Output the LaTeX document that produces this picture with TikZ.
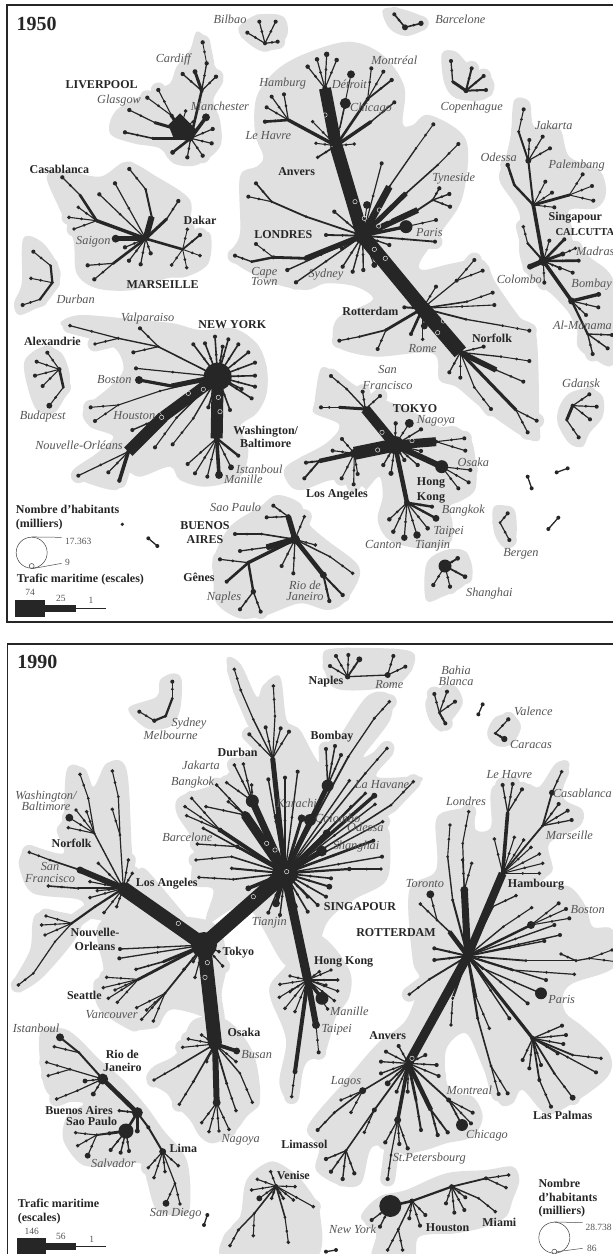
\documentclass[tikz,border=0pt]{standalone}
\usepackage{fontspec}
\setmainfont{Liberation Serif}
\usetikzlibrary{calc}
\definecolor{ink}{HTML}{262626}
\definecolor{blob}{HTML}{E0E0E0}
\definecolor{soft}{HTML}{555555}
\newcount\portno
\def\passno{0}
\tikzset{
  port/.style={circle,inner sep=0pt,outer sep=0pt,draw=none},
  ringmark/.style={circle,draw=blob,line width=.5pt,inner sep=0pt,minimum size=4.4pt,fill=none},
  halo/.style={draw=blob,line width=15pt,line cap=round},
  blobshape/.style={fill=blob,draw=none},
  bl/.style={font=\bfseries\fontsize{12}{13.5}\selectfont,text=black!85,inner sep=0pt,align=center},
  itl/.style={font=\itshape\fontsize{12.3}{12.5}\selectfont,text=soft,inner sep=0pt,align=center},
  numl/.style={font=\fontsize{9.5}{10}\selectfont,text=soft,inner sep=0pt},
  frameline/.style={draw=black!85,line width=1.6pt},
  q1/.style={shift={(0pt,0pt)},x=.33333pt,y=-.33333pt},
  q2/.style={shift={(306pt,0pt)},x=.33333pt,y=-.33333pt},
  q3/.style={shift={(0pt,-310pt)},x=.33333pt,y=-.33333pt},
  q4/.style={shift={(306pt,-310pt)},x=.33333pt,y=-.33333pt},
  q5/.style={shift={(0pt,-630pt)},x=.33333pt,y=-.33333pt},
  q6/.style={shift={(306pt,-630pt)},x=.33333pt,y=-.33333pt},
  q7/.style={shift={(0pt,-940pt)},x=.33333pt,y=-.33333pt},
  q8/.style={shift={(306pt,-940pt)},x=.33333pt,y=-.33333pt},
}
\newcommand\OnTop[1]{\ifnum\passno=2 #1\fi}
\newcommand\Hb[4]{\node[port,minimum size=#4pt] (#1) at (#2,#3) {};}
\newcommand\Lk[3]{%
  \ifnum\passno=0 \draw[halo] (#1.center)--(#2.center);\fi
  \ifnum\passno=1 \draw[draw=ink,line width=#3pt] (#1.center)--(#2.center);\fi}
\newcommand\Fan[4]{\foreach \xx/\yy in {#4}{%
  \global\advance\portno by 1
  \edef\nm{n\the\portno}%
  \node[port,minimum size=#3pt+.9pt] (\nm) at (\xx,\yy) {};
  \node[port,minimum size=3pt] (\nm m) at ($(#1)!.55!(\nm)$) {};
  \Lk{#1}{\nm}{#2}%
}}
\newcommand\Bare[4]{%
  \global\advance\portno by 1
  \node[port,minimum size=4pt] (b\the\portno a) at (#1,#2) {};
  \node[port,minimum size=4pt] (b\the\portno b) at (#3,#4) {};
  \ifnum\passno=1 \draw[draw=ink,line width=1.3pt] (b\the\portno a.center)--(b\the\portno b.center);\fi}
\newcommand\BL[3]{\global\advance\portno by 1 \node[bl] (t\the\portno) at (#1,#2) {#3};}
\newcommand\IT[3]{\global\advance\portno by 1 \node[itl] (t\the\portno) at (#1,#2) {#3};}
\newcommand\RM[2]{\global\advance\portno by 1 \OnTop{\node[ringmark] (r\the\portno) at (#1,#2) {};}}
\newcommand\Blob[1]{\fill[blobshape] plot[smooth cycle,tension=.55] coordinates {#1};}
\newcommand\Nets{%
\begin{scope}[q1]
 \Hb{bil}{795}{130}{4}\Fan{bil}{1.2}{3.2}{742/98,778/65,827/65,833/125}
 \Hb{liv}{540}{390}{6}\Hb{livb}{572}{415}{6}\Lk{liv}{livb}{7}
 \OnTop{\fill[ink] (505,375)--(540,340)--(590,390)--(572,425)--(520,412)--cycle;}
 \Fan{livb}{2.6}{4}{518/457}
 \Fan{livb}{1.2}{3.4}{638/387,635/430,608/467,562/472}
 \Fan{livb}{3.5}{7}{618/352}
 \Hb{car}{605}{272}{4}\Lk{livb}{car}{2.6}
 \Fan{car}{3}{4}{585/215}\Fan{car}{1.3}{3.4}{548/222,648/230,620/190}
 \Hb{car2}{620}{190}{2.8}\Fan{car2}{.9}{3.4}{608/127}
 \Hb{l1}{458}{415}{3.2}\Lk{livb}{l1}{2.6}\Fan{l1}{1.6}{3.4}{375/397}
 \Hb{l2}{465}{368}{3.2}\Lk{liv}{l2}{3}\Fan{l2}{1.2}{3.4}{388/330}
 \Hb{l3}{515}{347}{4}\Lk{liv}{l3}{3}\Fan{l3}{1.1}{3.4}{442/293,475/270}
 \Fan{liv}{1}{3}{557/333,580/365}
 \Hb{mar}{437}{716}{5}
 \Fan{mar}{5}{7}{347/716}
 \Hb{ca1}{290}{662}{3.4}\Lk{mar}{ca1}{3.4}\Fan{ca1}{1.1}{3}{207/652,222/687,235/622}
 \Hb{ca2}{240}{585}{3}\Lk{ca1}{ca2}{2.6}\Fan{ca2}{1.2}{3.4}{187/532}
 \Fan{mar}{1.2}{3.4}{298/583,345/550,375/742,387/782,422/793,452/760}
 \Hb{ma3}{455}{650}{3}\Lk{mar}{ma3}{6}\Hb{ma4}{437}{568}{3}\Lk{ma3}{ma4}{2}\Fan{ma4}{1.2}{3.4}{388/507}
 \Hb{ma5}{500}{657}{3}\Lk{mar}{ma5}{3}\Fan{ma5}{1.3}{3.4}{535/603}
 \Hb{ma6}{340}{790}{3}\Lk{mar}{ma6}{2.6}\Fan{ma6}{1.2}{3.4}{263/796,283/838}
 \Hb{dak}{548}{748}{3.4}\Lk{mar}{dak}{2.6}
 \Fan{dak}{.9}{3}{562/688,600/767,560/803,515/795}\Fan{dak}{1.8}{3.4}{600/705}
 \Hb{dur}{157}{848}{3.4}\Fan{dur}{1}{3}{93/835}
 \Hb{du1}{152}{797}{3}\Lk{dur}{du1}{2.2}\Fan{du1}{1.1}{3.2}{100/755}
 \Hb{du2}{120}{898}{3}\Lk{dur}{du2}{2.2}\Fan{du2}{1.1}{3.2}{68/915}
\end{scope}
\begin{scope}[q2]
 \Hb{lon}{170}{707}{17}
 \Hb{anv}{90}{437}{6}\Lk{lon}{anv}{13}
 \Hb{ham}{57}{265}{5.5}\Lk{anv}{ham}{12}
 \Fan{ham}{1.2}{3.6}{5/200,33/178,92/180}\Fan{ham}{1.2}{4.6}{62/163}
 \Hb{hh}{-53}{360}{3}\Lk{anv}{hh}{3.4}
 \Fan{hh}{2.6}{3.4}{-123/365}\Fan{hh}{1.2}{3.2}{-118/322,-103/290,-66/283}
 \Fan{anv}{1}{2.8}{145/432,30/430}\Fan{anv}{1.6}{3}{35/472}
 \Fan{anv}{1}{2.8}{20/365}
 \Hb{det}{118}{310}{11}\Lk{anv}{det}{1.4}
 \Fan{anv}{1}{7}{135/223}
 \Hb{cc}{185}{297}{4}\Lk{anv}{cc}{2.6}\Fan{cc}{1.1}{3.2}{196/205,232/215}\Fan{cc}{1.8}{3.4}{257/240}
 \Hb{cd}{195}{365}{3}\Lk{anv}{cd}{3.4}\Fan{cd}{1.4}{3.2}{265/307}
 \RM{57}{345}\RM{108}{390}\RM{147}{605}
 \Fan{lon}{1.2}{3.2}{227/490}
 \Hb{t1}{250}{560}{3}\Lk{lon}{t1}{7}\Hb{t2}{330}{445}{2.8}\Lk{t1}{t2}{1.4}\Fan{t2}{1}{3.2}{382/373}
 \Fan{lon}{1}{7}{183/615}
 \Hb{t3}{335}{630}{3}\Lk{lon}{t3}{6}\Hb{t4}{380}{600}{3}\Lk{t3}{t4}{1.8}\Fan{t4}{1.4}{3.4}{400/565,430/582,432/620}
 \Hb{t5}{300}{580}{3}\Lk{lon}{t5}{5}\Hb{t6}{395}{495}{2.8}\Lk{t5}{t6}{1.6}\Fan{t6}{1.1}{3.2}{457/432}
 \Hb{par}{300}{680}{13}\Lk{lon}{par}{3.4}\Fan{par}{1}{3.2}{390/660}
 \Fan{lon}{1.8}{3.2}{387/725,60/705}
 \Hb{t7}{0}{650}{3}\Lk{lon}{t7}{1.8}
 \Hb{t8}{-103}{605}{3}\Lk{t7}{t8}{1.8}\Fan{t8}{1.6}{3.2}{-150/550}\Fan{t8}{1.1}{3.2}{-173/590}
 \Hb{t9}{0}{775}{5}\Lk{lon}{t9}{5.5}
 \Hb{t10}{-98}{772}{4}\Lk{t9}{t10}{2.8}\Fan{t10}{1}{3.2}{-150/732}
 \Hb{t11}{-163}{785}{3}\Lk{t10}{t11}{2.4}\Fan{t11}{1.4}{3.2}{-213/767}
 \Fan{lon}{1.4}{3.4}{-56/810,-30/847,110/800,140/815,172/810,108/745}
 \Fan{lon}{1.2}{5}{205/795}
 \Fan{lon}{1.4}{3.4}{250/735,85/635}
 \Hb{rot}{350}{925}{6}\Lk{lon}{rot}{14}
 \RM{205}{748}\RM{238}{775}\RM{220}{630}\RM{218}{678}\RM{248}{655}\RM{175}{655}
 \Fan{rot}{1.1}{3.2}{390/860,565/915}
 \Hb{u1}{452}{842}{4}\Lk{rot}{u1}{1.2}\Fan{u1}{1.1}{3.2}{505/780,530/812}
 \Hb{u2}{483}{905}{3}\Lk{rot}{u2}{1.6}\Fan{u2}{1.1}{3.2}{560/878}
 \Fan{rot}{2}{3.2}{295/922}
 \Hb{sin}{682}{615}{4}
 \Fan{sin}{1}{3.2}{718/545,738/578,745/622}
 \Hb{od}{625}{555}{3}\Lk{sin}{od}{2.4}\Fan{od}{2.4}{3.6}{605/495}
 \Hb{ja}{667}{482}{6}\Lk{sin}{ja}{2}
 \Hb{ja2}{638}{395}{3.4}\Lk{ja}{ja2}{2}\Fan{ja2}{1.1}{3.2}{653/328}
 \Fan{ja}{1.2}{3.2}{670/420,710/410,732/445}
 \Hb{pa}{790}{585}{3}\Lk{sin}{pa}{2.8}\Fan{pa}{1}{3.2}{830/523,858/558,862/602}
 \Hb{cal}{712}{783}{10}\Lk{sin}{cal}{3.6}
 \Hb{ca3}{665}{730}{3}\Lk{cal}{ca3}{2}\Fan{ca3}{1.1}{3}{652/680}
 \Fan{cal}{1.1}{3.2}{730/722,800/818,762/805,715/848}
 \Fan{cal}{2.6}{3.2}{775/718,818/782}
 \Hb{ma}{770}{762}{5}\Lk{cal}{ma}{3}\Fan{ma}{1}{2.8}{808/745}
 \Fan{cal}{5}{5}{672/800}
 \Hb{bom}{797}{903}{7}\Lk{cal}{bom}{3.6}
 \Fan{bom}{3.4}{4}{878/883}\Fan{bom}{1.2}{3.2}{877/922,840/945}
 \Hb{ala}{845}{1002}{3}\Lk{bom}{ala}{2.2}\Fan{ala}{1.4}{3.2}{860/1062,905/1045,918/1005}
 \Hb{bar}{297}{82}{6}\Fan{bar}{1.6}{3.2}{265/43}\Fan{bar}{1.6}{4.4}{345/70}
 \Hb{cop}{480}{272}{5}\Hb{co1}{440}{245}{3}\Lk{cop}{co1}{3}\Fan{co1}{1.3}{3.2}{435/183}
 \Fan{cop}{2}{3.2}{497/205,533/228,540/270}
\end{scope}
\begin{scope}[q3]
 \Hb{ny}{653}{200}{28}
 \Hb{v1}{475}{110}{2.8}\Lk{ny}{v1}{1.6}\Fan{v1}{1.2}{3.2}{420/55,400/127}
 \Hb{v2}{355}{85}{3.4}\Lk{v1}{v2}{1.4}\Fan{v2}{1.2}{3}{285/102,210/47}
 \Fan{ny}{1.6}{3.2}{580/103,615/100,645/80,668/110,685/88,715/103,745/127,765/158,765/197,765/230,755/265,725/237,690/300,625/292}
 \Fan{ny}{1.2}{3.2}{408/175}
 \Hb{bo}{417}{210}{8}\Hb{bo2}{515}{228}{3}\Lk{ny}{bo2}{5}\Lk{bo2}{bo}{3.2}
 \Hb{v3}{480}{243}{2.6}\Lk{ny}{v3}{1.2}\Hb{v4}{355}{285}{2.8}\Lk{v3}{v4}{1.1}\Fan{v4}{1}{3.2}{272/292,285/333}
 \Hb{ho}{490}{320}{4}\Lk{ny}{ho}{11}
 \Hb{no}{385}{425}{4}\Lk{ho}{no}{12}
 \Fan{no}{1.2}{3.2}{235/497,325/487}\Fan{no}{3.6}{3.4}{358/512}
 \Fan{ho}{1.4}{3.2}{397/360}
 \Hb{v5}{530}{323}{3}\Lk{ny}{v5}{1.4}\Fan{v5}{1.1}{3.2}{465/412}
 \Hb{v6}{580}{325}{3}\Lk{ny}{v6}{1.4}\Fan{v6}{1.1}{3.2}{518/403}
 \Hb{wa}{650}{385}{6}\Lk{ny}{wa}{12}
 \Fan{wa}{2.4}{3.2}{715/437}\Fan{wa}{1.2}{5}{693/472}\Fan{wa}{3.6}{7}{657/495}
 \Fan{wa}{1.2}{3.2}{622/500,585/490,563/462}
 \RM{610}{238}\RM{655}{262}\RM{660}{305}\RM{565}{250}\RM{485}{322}
 \Hb{al}{178}{178}{4.4}\Fan{al}{1.1}{3.2}{142/128,110/155,105/197,128/228}
 \Hb{a2}{190}{232}{2.8}\Lk{al}{a2}{2.6}\Fan{a2}{1.1}{5}{148/287}
 \Hb{bue}{885}{688}{10}
 \Hb{b1}{785}{672}{3}\Lk{bue}{b1}{1.6}\Fan{b1}{1.2}{3.2}{705/672}
 \Hb{b2}{800}{712}{3}\Lk{bue}{b2}{6}\Fan{b2}{1.3}{3.2}{720/723}
 \Hb{b3}{865}{620}{5}\Lk{bue}{b3}{5.5}\Fan{b3}{1.3}{3.2}{820/587,800/622}
 \Hb{b4}{745}{758}{4}\Lk{bue}{b4}{3.4}\Fan{b4}{1.2}{3.2}{660/748}\Fan{b4}{2.6}{3.2}{680/815}
 \Hb{b5}{760}{845}{5.5}\Lk{b4}{b5}{2.4}\Fan{b5}{1.4}{3.2}{720/898,782/905}
 \Fan{bue}{1.2}{3.2}{845/768,880/790}
\end{scope}
\begin{scope}[q4]
 \Hb{b6}{52}{795}{7}\Lk{bue}{b6}{4.5}\Fan{b6}{2}{3.4}{70/873,110/855}
 \Hb{b7}{72}{740}{2.8}\Lk{bue}{b7}{1.4}\Fan{b7}{1.2}{3}{140/790}
 \Fan{bue}{1.2}{3}{28/705,-5/620}
 \Fan{rot}{2.6}{3.2}{315/72}\Fan{rot}{1.2}{6}{355/48}\Fan{rot}{1.2}{3}{350/88}
 \Hb{r1}{240}{60}{3.6}\Lk{rot}{r1}{2.8}\Fan{r1}{1.2}{3.2}{215/117}
 \Hb{r2}{160}{80}{3}\Lk{r1}{r2}{1.8}\Fan{r2}{1.2}{3.2}{100/92}
 \Hb{r3}{480}{28}{3}\Lk{rot}{r3}{1.8}\Hb{r4}{590}{47}{3}\Lk{r3}{r4}{1.3}\Fan{r4}{1}{3.2}{670/62}
 \Hb{nor}{463}{127}{4}\Lk{rot}{nor}{15}
 \RM{395}{68}\RM{412}{33}
 \Fan{nor}{1.3}{3.2}{533/110,430/187,463/203}
 \Hb{n1}{585}{140}{3}\Lk{nor}{n1}{1.3}\Fan{n1}{1}{3.2}{670/153}
 \Hb{n2}{570}{180}{3.4}\Lk{nor}{n2}{5.5}\Fan{n2}{1.2}{3.2}{652/215}
 \Hb{n3}{505}{232}{3}\Lk{nor}{n3}{1.2}\Fan{n3}{1.1}{3.2}{555/297}
 \Hb{n4}{630}{300}{3}\Lk{nor}{n4}{3.2}\Fan{n4}{1.2}{3.2}{692/332,665/367}
 \Hb{tok}{267}{405}{18}
 \Hb{sf}{178}{297}{6}\Lk{tok}{sf}{10}
 \Hb{s1}{122}{237}{3}\Lk{sf}{s1}{1.4}\Fan{s1}{1.2}{3.2}{75/198}
 \Fan{sf}{1.2}{3.2}{170/245,222/258}
 \Hb{s2}{100}{292}{3}\Lk{sf}{s2}{3}\Fan{s2}{1.6}{3.2}{45/292}
 \Hb{nag}{390}{395}{4}\Lk{tok}{nag}{9}\Fan{nag}{1.1}{3.2}{475/385,478/422}
 \Hb{la}{145}{430}{9}\Lk{tok}{la}{13}
 \Fan{la}{1.1}{3.2}{108/387,80/422,155/492,143/523,107/505}
 \Hb{s3}{40}{453}{3.4}\Lk{la}{s3}{4.5}\Fan{s3}{1.8}{3.2}{0/458,-5/505}
 \RM{215}{420}\RM{228}{367}\RM{318}{392}
 \Hb{osa}{407}{470}{13}\Lk{tok}{osa}{6}\Fan{osa}{1.1}{3.2}{493/480,488/517,457/535}
 \Fan{tok}{1.3}{3.4}{269/340,345/358,345/423,335/465,295/450,232/465}
 \Fan{tok}{1.1}{8}{310/340}\Fan{tok}{1.2}{4.2}{255/490}
 \Hb{hk}{303}{578}{6}\Lk{tok}{hk}{4.5}
 \Fan{hk}{2.4}{3.2}{378/590}\Fan{hk}{2.4}{6}{390/625}\Fan{hk}{1.2}{3.6}{365/655,262/665,250/628}
 \Fan{hk}{1.2}{6.6}{333/675}\Fan{hk}{1.2}{5.6}{295/683}
 \Hb{gd}{800}{287}{4}\Fan{gd}{1.2}{3.2}{850/253,872/290,852/328}
 \Hb{g2}{782}{330}{3}\Lk{gd}{g2}{3}\Fan{g2}{1.2}{3.2}{818/382}
 \Hb{ber}{582}{638}{3}\Fan{ber}{1.2}{3.2}{605/610,610/690}
 \Hb{sha}{417}{768}{13}\Fan{sha}{1.8}{3.8}{455/745,477/800}\Fan{sha}{1.1}{3.4}{432/830,382/825}
 \Bare{665}{500}{677}{535}\Bare{752}{487}{785}{475}\Bare{727}{657}{757}{623}
\end{scope}
\begin{scope}[q3]
 \Bare{445}{685}{472}{708}
 \Hb{leg1}{367}{643}{3.6}
\end{scope}
\begin{scope}[q5]
 \Hb{sy1}{517}{205}{3}\Hb{sy2}{497}{258}{3.4}\Hb{sy3}{463}{272}{4.4}
 \Fan{sy1}{1.1}{3.2}{517/155}\Lk{sy1}{sy2}{2.2}\Lk{sy2}{sy3}{2.2}\Fan{sy3}{1.1}{3.2}{418/245}
 \Hb{sg}{855}{730}{26}
 \Hb{to}{612}{945}{26}
 \Hb{lo}{370}{775}{12}
 \Lk{lo}{to}{14}\Lk{to}{sg}{15}
 \Hb{f1}{240}{720}{7}\Lk{lo}{f1}{6}\Hb{f2}{150}{690}{3}\Lk{f1}{f2}{1.6}\Fan{f2}{1.2}{3}{88/667}
 \Hb{f3}{235}{775}{3}\Lk{lo}{f3}{1.8}\Fan{f3}{1.6}{3}{145/768}
 \Fan{lo}{1.2}{3}{270/755,295/700,270/803,292/782,312/848,350/830,385/690,397/730}
 \Hb{f4}{360}{615}{3}\Lk{lo}{f4}{1.2}\Hb{f5}{355}{500}{3}\Lk{f4}{f5}{1.2}\Fan{f5}{1.1}{3}{337/423}\Fan{f4}{1.1}{3}{337/538}
 \Hb{f6}{283}{610}{3}\Lk{lo}{f6}{1.4}\Hb{f7}{265}{505}{3}\Lk{f6}{f7}{1.2}\Fan{f7}{1.1}{3}{240/433}
 \Fan{f6}{1.1}{3}{228/540,260/545,205/593}\Fan{f6}{1.1}{7}{208/563}
 \Hb{se}{215}{880}{3.2}\Hb{se2}{285}{830}{3}\Lk{lo}{se2}{2.2}\Lk{se2}{se}{2.2}
 \Fan{se}{1.1}{3}{138/858,125/885,135/915}
 \Hb{se3}{165}{935}{2.6}\Lk{se}{se3}{1.2}
 \Hb{f8}{100}{1030}{3}\Lk{se3}{f8}{1.2}\Fan{f8}{1.2}{3}{55/1065}
 \Hb{dn}{818}{385}{4}\Lk{sg}{dn}{5}
 \Hb{d1}{760}{268}{2.8}\Lk{dn}{d1}{1.4}\Hb{d2}{722}{180}{3.2}\Lk{d1}{d2}{1.2}\Fan{d2}{1.1}{3}{703/118}
 \Fan{dn}{1.2}{3.2}{748/313,797/292,842/295,867/305}
 \Hb{d3}{825}{258}{3}\Lk{dn}{d3}{1.2}\Fan{d3}{1.1}{3}{820/168}
 \Hb{d4}{757}{513}{13}\Lk{sg}{d4}{7}\Fan{d4}{1.3}{3}{680/458,703/405,730/402,755/465}
 \Hb{d5}{735}{555}{8}\Lk{sg}{d5}{9}\Fan{d5}{1.3}{3}{650/465,685/515,618/530}
 \Hb{d6}{660}{600}{5}\Lk{sg}{d6}{4}\Fan{d6}{1.2}{3}{575/505,555/530,560/557}
 \Fan{sg}{1.6}{3}{610/595}
 \Hb{d7}{712}{650}{4.4}\Lk{sg}{d7}{2.6}\Fan{d7}{1.3}{3}{592/642}
 \Hb{d8}{695}{680}{3}\Lk{sg}{d8}{1.6}\Fan{d8}{1.2}{3}{588/690}
 \Fan{sg}{2}{3}{695/715}
 \Hb{d9}{700}{748}{3}\Lk{sg}{d9}{1.6}\Fan{d9}{1.3}{3}{597/742}
 \Fan{sg}{3.6}{5}{745/775}
 \Fan{sg}{4}{7}{828/820}\Fan{sg}{1.4}{3.2}{805/848,840/855,805/448,855/443,893/425}
 \Fan{sg}{5}{8}{880/830}\Fan{sg}{2.4}{5}{830/560}\Fan{sg}{3}{7}{905/565}
 \RM{800}{640}\RM{825}{660}\RM{860}{725}\RM{760}{800}\RM{535}{880}
\end{scope}
\begin{scope}[q6]
 \Hb{bb}{65}{467}{12}\Lk{sg}{bb}{5}\Fan{bb}{1.5}{3.2}{60/357,87/348,105/375}
 \Hb{e1}{127}{380}{3}\Lk{sg}{e1}{1.8}\Hb{e2}{205}{265}{3.4}\Lk{e1}{e2}{1.3}\Fan{e2}{1.2}{3}{250/215}
 \Hb{e3}{178}{430}{3}\Lk{sg}{e3}{1.5}\Fan{e3}{1.2}{3}{243/355}
 \Fan{sg}{1.4}{3}{130/452,135/530,230/575,207/523}
 \Hb{e4}{255}{525}{3}\Lk{sg}{e4}{1.6}\Fan{e4}{1.2}{3}{322/455}
 \Fan{sg}{3.4}{5}{205/497}\Fan{sg}{2}{3}{178/490}
 \Fan{sg}{3}{11}{12/570}\Fan{sg}{4}{7}{62/610}\Fan{sg}{5}{10}{47/663}
 \Fan{sg}{2.6}{3.2}{202/632}\Fan{sg}{1.4}{3.2}{228/680}
 \Hb{e5}{130}{717}{4.4}\Lk{sg}{e5}{2.2}\Fan{e5}{1.2}{3}{225/717}
 \Fan{sg}{2}{5}{70/770}\Fan{sg}{1.6}{3.2}{75/745,60/800,35/825,5/845,5/800}
 \Hb{rt}{485}{978}{6}
 \Hb{hb}{590}{730}{4}\Lk{rt}{hb}{8}
 \Fan{hb}{1.1}{3}{700/730,710/700,700/672,675/652,653/630,625/622,565/627}
 \Hb{lh}{605}{548}{3.4}\Lk{hb}{lh}{3.6}\Fan{lh}{1.3}{3.2}{590/465,620/462,648/478}
 \Hb{mr}{710}{587}{3.4}\Lk{hb}{mr}{1.8}\Fan{mr}{1.3}{3.2}{758/522,785/542,797/570}
 \Hb{cs}{738}{488}{6}\Lk{mr}{cs}{1.8}\Fan{cs}{1.3}{3}{767/425}
 \Hb{g1}{475}{780}{8}\Lk{rt}{g1}{7}
 \Hb{g3}{470}{640}{3}\Lk{g1}{g3}{1.2}\Fan{g3}{1.1}{3}{488/545}\Fan{g1}{1.2}{3}{497/700,470/690}
 \Hb{g4}{425}{680}{3}\Hb{g5}{440}{810}{3.4}\Lk{rt}{g5}{2}\Lk{g5}{g4}{1.4}\Fan{g4}{1.1}{3}{432/585}
 \Hb{g6}{430}{905}{3}\Lk{rt}{g6}{4.5}\Hb{g7}{393}{870}{3}\Lk{g6}{g7}{1.5}\Fan{g7}{1.2}{7}{373/793}\Fan{g7}{1.2}{3}{343/822}
 \Fan{rt}{2}{3.2}{385/955,385/990}
 \Hb{g8}{560}{830}{3}\Lk{rt}{g8}{2.4}\Fan{g8}{1.3}{3}{630/797}
 \Hb{g9}{592}{890}{3}\Lk{rt}{g9}{1.4}\Fan{g9}{1.1}{3}{677/833}
 \Hb{bs}{675}{885}{8}\Lk{rt}{bs}{2.4}\Fan{bs}{1.1}{3.2}{758/820,780/837,790/865}
 \Fan{rt}{1.4}{3.2}{745/885,762/915,715/933}
\end{scope}
\begin{scope}[q7]
 \Fan{to}{1.3}{3.2}{360/27,358/55}
 \Hb{h2}{490}{65}{3}\Lk{to}{h2}{2.8}\Fan{h2}{1.6}{3}{408/88}
 \Hb{h3}{415}{118}{3.4}\Lk{to}{h3}{2.8}\Fan{h3}{1.1}{3}{320/112,310/143,345/150,325/175,352/187}
 \Hb{h4}{495}{160}{3.2}\Lk{to}{h4}{1.8}\Fan{h4}{1.1}{3}{410/203,425/238,440/210,460/243}
 \Fan{to}{1.2}{3}{580/65,585/112,668/78,657/35,552/88}
 \Hb{os}{645}{312}{13}\Lk{to}{os}{14}
 \Fan{os}{3.8}{6}{710/333}\Fan{os}{1.1}{3}{708/365,605/285,565/297,548/322,620/365}
 \Hb{h5}{535}{378}{3}\Lk{os}{h5}{1.6}\Fan{h5}{1.3}{3}{462/420}
 \Hb{h6}{580}{425}{3.4}\Lk{os}{h6}{1.6}\Fan{h6}{1.3}{3}{538/493}
 \Hb{ng}{650}{488}{8}\Lk{os}{ng}{6}\Fan{ng}{1.2}{3}{605/548,627/575,657/573,687/568}
 \Hb{h7}{680}{430}{3.2}\Lk{os}{h7}{1.8}\Fan{h7}{1.3}{3}{708/512}
 \Hb{h8}{720}{400}{2.8}\Lk{os}{h8}{1.4}\Fan{h8}{1.2}{3}{757/487}
 \RM{622}{68}\RM{615}{112}
 \Hb{ist}{180}{292}{8}\Hb{rj}{308}{417}{11}\Hb{rm}{237}{338}{3}\Lk{ist}{rm}{2}\Lk{rm}{rj}{2}\Fan{rm}{1.2}{3}{163/320}
 \Hb{h9}{210}{388}{3.2}\Lk{rj}{h9}{1.2}\Fan{h9}{1.1}{3}{140/367,145/407}
 \Fan{rj}{1.2}{4}{255/423,280/462}\Hb{h10}{232}{452}{3}\Lk{rj}{h10}{1.2}\Fan{h10}{1.1}{3}{170/477}
 \Hb{ba}{412}{518}{11}\Lk{rj}{ba}{4.5}\Fan{ba}{1.6}{3}{358/512}\Fan{ba}{3}{4}{412/573}
 \Hb{sp}{378}{573}{15}\Lk{ba}{sp}{2.6}
 \Hb{lm}{488}{635}{7}\Hb{lm2}{445}{562}{4}\Lk{ba}{lm2}{2}\Lk{lm2}{lm}{2}
 \Fan{lm}{1.2}{3}{535/677,445/683,462/713,495/695}
 \Hb{h11}{525}{730}{3}\Lk{lm}{h11}{1.2}\Fan{h11}{1.1}{3}{540/792}\Fan{h11}{1.1}{6}{498/790}
 \Hb{h12}{328}{580}{4}\Lk{sp}{h12}{2.8}\Hb{h13}{290}{585}{3.4}\Lk{h12}{h13}{2}
 \Fan{h13}{1.1}{3}{227/578,233/617}\Fan{h13}{1.1}{5}{263/647}
 \Fan{sp}{1.4}{3.2}{332/630,362/638,387/633}
 \Bare{622}{825}{612}{855}
 \Hb{ve}{828}{738}{4}
 \Fan{ve}{1.1}{3}{812/695,772/718,755/750,880/780,885/740}\Fan{ve}{1.1}{5}{778/775}\Fan{ve}{1.6}{3}{815/775,850/775}
 \Hb{v7}{855}{832}{3}\Lk{ve}{v7}{1.6}\Fan{v7}{1.1}{3}{865/907}
 \Hb{v8}{763}{820}{3}\Lk{ve}{v8}{1.6}\Fan{v8}{1}{3}{760/887}
 \Hb{v9}{715}{870}{3.4}\Lk{v8}{v9}{1.4}\Fan{v9}{1.2}{3}{690/917}
 \Fan{ve}{1.1}{3}{940/800}
\end{scope}
\begin{scope}[q8]
 \Hb{hkg}{5}{120}{4}\Lk{sg}{hkg}{9}
 \Hb{k1}{-33}{395}{5}\Lk{hkg}{k1}{4}\Fan{k1}{1.2}{3}{-43/470}
 \Fan{hkg}{1.1}{3}{40/95,75/90,95/120,95/153,60/135,85/182,65/207,-48/108,-78/133,-48/155,-80/172,-63/205,-33/215}
 \Fan{hkg}{3.6}{12}{48/175}
 \Hb{k2}{30}{255}{8}\Lk{hkg}{k2}{6}\Fan{k2}{1}{3.2}{38/337}
 \Hb{anb}{307}{370}{5}\Lk{rt}{anb}{9}
 \Fan{anb}{1.3}{3.2}{240/335,278/318,225/365,358/345,392/375,398/408,225/400,272/455,305/455}
 \Fan{anb}{1.6}{5}{245/430}
 \Hb{ps}{275}{540}{7}\Lk{anb}{ps}{3.6}\Fan{ps}{1.3}{3.4}{238/607,305/625,280/612}
 \Hb{k4}{255}{645}{3}\Lk{ps}{k4}{1.2}\Fan{k4}{1.3}{3.2}{245/717}
 \Hb{k5}{205}{510}{5}\Lk{anb}{k5}{1.8}\Fan{k5}{1.1}{3}{175/577}
 \Hb{lim}{120}{632}{3.4}\Lk{k5}{lim}{1.6}\Fan{lim}{1.4}{3.4}{60/657,75/695,110/717,145/700}
 \Hb{lag}{170}{452}{7}\Lk{anb}{lag}{1.6}\Fan{lag}{1.1}{3}{105/480,135/517}
 \Hb{k6}{85}{518}{3.4}\Lk{lag}{k6}{1.6}\Fan{k6}{1.4}{3.2}{35/570}
 \Hb{k7}{330}{480}{3}\Lk{anb}{k7}{2.8}\Fan{k7}{2}{3.2}{345/570}
 \Hb{k8}{375}{510}{3.2}\Lk{anb}{k8}{4.5}\Fan{k8}{1.8}{3.4}{395/585,425/577}
 \Hb{k9}{428}{480}{5}\Lk{anb}{k9}{1.8}\Fan{k9}{1.2}{3.2}{500/518,495/550}\Fan{k9}{1.6}{11}{468/555}
 \RM{318}{355}\RM{440}{175}
 \Hb{k10}{370}{118}{3}\Lk{rt}{k10}{1.8}\Fan{k10}{1.3}{3}{310/163}
 \Fan{rt}{1.4}{3.2}{720/120,665/190,610/235}
 \Hb{k11}{620}{90}{3}\Lk{rt}{k11}{2.2}\Fan{k11}{1.2}{3}{805/103}
 \Hb{k12}{530}{85}{3.4}\Lk{rt}{k12}{2.2}\Fan{k12}{1.4}{11}{705/160}
 \Hb{k13}{660}{62}{3}\Lk{rt}{k13}{1.8}\Hb{k14}{810}{62}{3.4}\Lk{k13}{k14}{1.6}\Fan{k14}{1.3}{3}{765/42}
 \Hb{k15}{850}{55}{3}\Lk{k14}{k15}{1.3}\Fan{k15}{1}{3}{918/30,930/65}
 \Hb{k16}{510}{170}{3}\Lk{rt}{k16}{2.4}\Fan{k16}{1.2}{3}{550/265}
 \Hb{k17}{440}{175}{3}\Lk{rt}{k17}{2.4}\Fan{k17}{1.2}{3}{435/255}
 \Hb{k18}{515}{235}{3.4}\Lk{rt}{k18}{2.2}\Hb{k19}{555}{378}{3.2}\Lk{k18}{k19}{1.6}\Fan{k19}{1.2}{3.2}{578/462,605/460}
 \Hb{lp}{680}{295}{5}\Lk{rt}{lp}{3.2}
 \Fan{lp}{1.3}{3.2}{768/257,780/285,772/312,870/397,670/385,650/360,705/375,755/340}
 \Hb{k20}{800}{345}{3}\Lk{lp}{k20}{1.8}\Fan{k20}{1.2}{3}{885/355}
 \Hb{k21}{745}{400}{3}\Lk{lp}{k21}{1.8}\Fan{k21}{1.3}{5}{800/473}
 \Hb{k22}{700}{420}{4}\Lk{lp}{k22}{1.8}\Fan{k22}{1.3}{3.2}{735/500}
 \Hb{nyb}{253}{798}{22}\Hb{k23}{318}{783}{5}\Lk{nyb}{k23}{2.6}
 \Fan{nyb}{1.3}{3.2}{197/840,222/860}
 \Hb{k24}{437}{740}{5}\Lk{k23}{k24}{2.2}
 \Hb{k25}{540}{715}{4}\Lk{k24}{k25}{1.8}\Fan{k25}{1.2}{3}{608/705,600/743}
 \Fan{k23}{1.2}{3.2}{342/857,358/825,310/835}
 \Hb{k26}{277}{868}{3.4}\Lk{k23}{k26}{1.4}\Fan{k26}{1.2}{3}{245/930,290/930}
 \Fan{k24}{1.2}{3.2}{420/790,445/818,475/810,478/772}
 \Hb{k27}{518}{775}{3}\Lk{k24}{k27}{1.4}\Fan{k27}{1.2}{3}{568/815}
 \Bare{60}{935}{90}{930}
\end{scope}
\begin{scope}[q6]
 \Hb{nap}{125}{140}{5.5}\Fan{nap}{1.2}{3.2}{90/78,127/75,72/108}\Fan{nap}{1.8}{5}{160/88}
 \Hb{rom}{245}{135}{6}\Lk{nap}{rom}{1.3}\Fan{rom}{1.2}{3.2}{262/78,298/110}
 \Hb{bah}{400}{248}{3}\Fan{bah}{1.2}{3.2}{385/192,423/185,447/215}\Fan{bah}{2}{3.2}{418/280}
 \Bare{530}{223}{517}{253}
 \Hb{cr}{568}{310}{3.4}\Fan{cr}{1.2}{3.4}{607/268}\Fan{cr}{1.8}{5.4}{595/327}
\end{scope}
}
\begin{document}
\begin{tikzpicture}[x=1pt,y=-1pt]
\useasboundingbox (0pt,0pt) rectangle (613pt,-1254pt);
\fill[white] (0pt,0pt) rectangle (613pt,-1254pt);
\clip (0pt,0pt) rectangle (613pt,-1254pt);

% grey territories
\begin{scope}[q1]
 \Blob{(715,85)(770,45)(850,50)(860,110)(800,155)(745,130)}
 \Blob{(590,95)(620,120)(640,190)(670,240)(640,300)(660,360)(660,440)(590,495)(520,490)(480,445)(400,430)(330,400)(350,330)(460,270)(510,250)(530,200)(570,150)}
 \Blob{(140,530)(190,510)(300,530)(380,485)(470,530)(570,600)(570,690)(630,700)(625,790)(560,830)(500,835)(400,870)(290,865)(230,820)(220,720)(180,630)}
 \Blob{(70,715)(130,730)(180,810)(170,860)(130,910)(60,945)(42,910)(65,850)}
\end{scope}
\begin{scope}[q2]
 \Blob{(0,160)(130,125)(230,165)(295,260)(290,370)(320,375)(370,345)(480,420)(470,590)(410,690)(345,780)(350,810)(440,790)(530,780)(570,850)(640,950)(690,1000)(700,1260)(700,1320)(660,1315)(590,1270)(510,1210)(450,1160)(400,1140)(380,1060)(210,1070)(100,1045)(80,1000)(100,950)(200,900)(150,860)(60,850)(0,870)(-98,850)(-198,800)(-228,760)(-198,700)(-198,530)(-148,500)(-128,470)(-153,400)(-148,290)(-88,210)}
 \Blob{(625,300)(670,305)(685,380)(760,385)(790,470)(880,510)(900,580)(870,625)(790,630)(800,690)(800,720)(850,770)(925,850)(925,1085)(860,1075)(815,1040)(810,970)(745,890)(670,830)(640,760)(640,640)(580,540)(600,470)(615,400)}
 \Blob{(408,160)(450,155)(490,195)(550,225)(565,265)(530,300)(450,295)(415,250)}
 \Blob{(230,30)(280,25)(360,55)(360,85)(300,108)(250,85)}
\end{scope}
\begin{scope}[q3]
 \Blob{(190,30)(250,15)(420,30)(520,40)(600,60)(700,55)(770,100)(800,170)(800,250)(770,310)(720,350)(745,420)(720,500)(620,530)(540,510)(510,470)(420,500)(370,480)(350,540)(240,510)(220,480)(290,430)(340,380)(270,350)(250,300)(330,230)(370,180)(350,120)(280,80)(190,50)}
 \Blob{(75,150)(130,110)(185,130)(210,200)(195,260)(160,310)(110,300)(80,220)}
 \Blob{(640,745)(690,650)(780,590)(830,555)(900,580)(925,640)(980,690)(1070,760)(1075,810)(1030,880)(980,900)(900,880)(800,915)(720,925)(650,880)(640,800)}
\end{scope}
\begin{scope}[q4]
 \Blob{(25,280)(45,175)(90,190)(170,240)(225,265)(330,310)(400,350)(450,350)(500,400)(510,530)(470,570)(430,590)(440,640)(430,700)(340,715)(250,690)(215,630)(230,560)(220,500)(180,540)(170,530)(80,510)(-10,540)(-50,525)(-60,470)(60,400)(100,345)(25,310)}
 \Blob{(760,290)(790,250)(850,235)(890,260)(890,320)(850,370)(830,410)(790,400)(755,340)}
 \Blob{(560,600)(580,585)(625,600)(632,670)(620,710)(590,710)(565,670)}
 \Blob{(362,760)(420,720)(480,725)(500,790)(470,830)(410,860)(360,870)}
\end{scope}
\begin{scope}[q5]
 \Blob{(385,235)(470,200)(480,150)(520,130)(545,150)(540,240)(510,290)(440,295)}
 \Blob{(60,680)(90,650)(190,670)(170,600)(190,560)(200,420)(240,410)(280,470)(320,400)(380,420)(400,700)(440,720)(560,860)(600,900)(500,960)(330,880)(260,860)(240,810)(100,790)(60,720)}
 \Blob{(110,850)(235,860)(230,920)(130,1040)(60,1085)(35,1065)(90,960)}
 \Blob{(680,100)(720,100)(770,200)(790,165)(840,140)(860,270)(900,300)(960,400)(1000,350)(1100,200)(1170,195)(1170,270)(1090,380)(1160,345)(1180,370)(1130,440)(1260,440)(1250,470)(1160,560)(1170,620)(1160,750)(1060,810)(980,880)(930,1030)(850,1000)(740,830)(620,880)(640,780)(575,760)(580,640)(530,550)(540,500)(650,460)(710,400)(760,330)}
\end{scope}
\begin{scope}[q6]
 \Blob{(50,80)(90,55)(300,60)(325,100)(280,160)(180,180)(80,170)}
 \Blob{(360,210)(410,170)(450,170)(470,220)(430,280)(405,305)(370,270)}
 \Blob{(545,300)(570,260)(620,255)(645,290)(620,340)(580,350)(550,330)}
\end{scope}
\begin{scope}[q7]
 \Blob{(310,-60)(620,-60)(680,50)(665,160)(670,250)(580,220)(510,210)(470,260)(420,270)(390,270)(300,210)(280,130)(310,90)}
 \Blob{(580,240)(680,240)(760,340)(780,480)(740,530)(700,580)(640,610)(600,590)(570,540)(520,490)(500,460)(440,420)(460,380)(530,340)}
 \Blob{(670,890)(720,830)(740,720)(810,665)(870,690)(920,740)(960,820)(940,960)(680,960)}
 \Blob{(120,280)(185,265)(230,290)(300,360)(370,420)(440,500)(490,570)(560,660)(570,800)(540,825)(470,810)(440,720)(420,670)(300,680)(240,670)(190,600)(200,530)(250,490)(170,480)(130,430)}
\end{scope}
\begin{scope}[q8]
 \Blob{(-50,-20)(50,-10)(130,90)(130,170)(90,230)(70,300)(50,350)(0,370)(-40,490)(-80,430)(-60,300)(-105,180)(-105,130)(-50,60)}
 \Blob{(310,-150)(390,-210)(390,-360)(440,-390)(500,-390)(510,-330)(555,-340)(560,-460)(660,-470)(700,-460)(750,-530)(790,-530)(770,-430)(830,-390)(820,-340)(730,-290)(740,-210)(700,-170)(790,-160)(840,-100)(860,-40)(920,-30)(925,80)(800,130)(770,170)(780,220)(830,260)(910,340)(905,410)(800,490)(720,520)(650,450)(620,490)(580,490)(530,380)(480,280)(420,330)(430,450)(500,470)(530,530)(500,590)(420,610)(360,630)(290,640)(200,620)(165,730)(100,735)(30,690)(40,620)(5,560)(120,420)(215,310)(300,240)(340,120)(320,60)}
 \Blob{(165,830)(220,770)(300,750)(420,700)(540,690)(620,680)(640,720)(620,780)(600,830)(540,860)(450,880)(340,890)(320,960)(200,960)(210,880)}
\end{scope}

% pass 0: grey halos, pass 1: links, pass 2: ports and marks
\def\passno{0}\Nets
\def\passno{1}\Nets
\def\passno{2}\tikzset{port/.append style={fill=ink}}\Nets

\begin{scope}[q3]
 \node[circle,draw=black!75,line width=.5pt,minimum size=31pt,inner sep=0pt] (lc1) at (95,728) {};
 \node[circle,draw=black!75,line width=.5pt,minimum size=5pt,inner sep=0pt] (lc2) at (95,768) {};
 \coordinate (lc1e) at (185,682);\coordinate (lc2e) at (185,760);
 \draw[black!70,line width=.5pt] (lc1.north)--(lc1e);
 \draw[black!70,line width=.5pt] (lc2.south)--(lc2e);
 \node[numl,anchor=west] (n173) at (195,693) {17.363};
 \node[numl,anchor=west] (n9) at (195,757) {9};
 \node[bl,anchor=west,align=left] (lgp) at (47,623) {Nombre d’habitants\\(milliers)};
 \node[bl,anchor=west] (lgt) at (50,810) {Trafic maritime (escales)};
 \fill[ink] (45,870) rectangle (135,920);
 \fill[ink] (135,885) rectangle (228,905);
 \draw[ink,line width=.6pt] (228,895)--(318,895);
 \node[numl] (n74) at (90,847) {74};\node[numl] (n25) at (183,866) {25};\node[numl] (n1) at (273,871) {1};
\end{scope}
\begin{scope}[q7]
 \fill[ink] (50,895) rectangle (138,942);
 \fill[ink] (138,910) rectangle (228,930);
 \draw[ink,line width=.6pt] (228,920)--(318,920);
 \node[numl] (n146) at (95,875) {146};\node[numl] (n56) at (183,890) {56};\node[numl] (n1b) at (275,897) {1};
 \node[bl,anchor=west,align=left] (lgtb) at (53,815) {Trafic maritime\\(escales)};
\end{scope}
\begin{scope}[q8]
 \node[circle,draw=black!75,line width=.5pt,minimum size=31pt,inner sep=0pt] (lc3) at (745,893) {};
 \node[circle,draw=black!75,line width=.5pt,minimum size=5pt,inner sep=0pt] (lc4) at (745,935) {};
 \coordinate (lc3e) at (830,848);\coordinate (lc4e) at (830,925);
 \draw[black!70,line width=.5pt] (lc3.north)--(lc3e);
 \draw[black!70,line width=.5pt] (lc4.east)--(lc4e);
 \node[numl,anchor=west] (n287) at (838,862) {28.738};
 \node[numl,anchor=west] (n86) at (843,925) {86};
 \node[bl,anchor=west,align=left] (lgpb) at (697,775) {Nombre\\d’habitants\\(milliers)};
\end{scope}

%================ labels ================
\begin{scope}[q1]
 \node[bl,font=\bfseries\fontsize{20}{20}\selectfont] (y50) at (110,72) {1950};
 \IT{690}{57}{Bilbao}\IT{520}{178}{Cardiff}\BL{305}{255}{LIVERPOOL}\IT{357}{302}{Glasgow}
 \IT{660}{318}{Manchester}\IT{848}{252}{Hamburg}\IT{805}{408}{Le Havre}\BL{890}{515}{Anvers}
 \BL{178}{507}{Casablanca}\IT{280}{725}{Saigon}\BL{600}{662}{Dakar}\BL{488}{853}{MARSEILLE}
 \IT{227}{897}{Durban}\BL{850}{703}{LONDRES}\IT{793}{830}{Cape\\[-2pt]Town}
\end{scope}
\begin{scope}[q2]
 \IT{463}{57}{Barcelone}\IT{265}{180}{Montréal}\IT{130}{253}{Détroit}\IT{195}{327}{Chicago}
 \IT{497}{322}{Copenhague}\IT{743}{375}{Jakarta}\IT{578}{472}{Odessa}\IT{812}{498}{Palembang}
 \IT{443}{535}{Tyneside}\IT{370}{697}{Paris}\BL{808}{652}{Singapour}
 \node[bl,anchor=west,font=\bfseries\fontsize{10.6}{12}\selectfont] (calc) at (748,695) {CALCUTTA};
 \IT{868}{755}{Madras}\IT{60}{825}{Sydney}\IT{640}{838}{Colombo}
 \node[itl,anchor=east] (bomb1) at (918,853) {Bombay};
 \BL{193}{935}{Rotterdam}
\end{scope}
\begin{scope}[q3]
 \IT{443}{25}{Valparaiso}\BL{697}{45}{NEW YORK}\BL{157}{95}{Alexandrie}\IT{343}{208}{Boston}
 \IT{403}{317}{Houston}\IT{128}{320}{Budapest}\IT{237}{407}{Nouvelle-Orléans}
 \BL{797}{380}{Washington/\\Baltimore}\IT{778}{477}{Istanboul}\IT{730}{508}{Manille}
 \IT{707}{592}{Sao Paulo}\BL{615}{668}{BUENOS\\[1pt]AIRES}\BL{597}{803}{Gênes}\IT{672}{863}{Naples}
 \IT{915}{843}{Rio de\\[-2pt]Janeiro}
\end{scope}
\begin{scope}[q4]
 \node[itl,anchor=east] (alm) at (918,47) {Al-Manama};
 \IT{350}{115}{Rome}\BL{558}{85}{Norfolk}\IT{245}{202}{San\\[3pt]Francisco}\BL{327}{297}{TOKYO}
 \IT{390}{333}{Nagoya}\IT{502}{457}{Osaka}\BL{375}{541}{Hong\\[2pt]Kong}\BL{93}{555}{Los Angeles}
 \IT{472}{603}{Bangkok}\IT{428}{665}{Taipei}\IT{232}{702}{Canton}\IT{380}{707}{Tianjin}
 \IT{825}{220}{Gdansk}\IT{645}{730}{Bergen}\IT{550}{850}{Shanghai}
\end{scope}
\begin{scope}[q5]
 \node[bl,font=\bfseries\fontsize{20}{20}\selectfont] (y90) at (112,95) {1990};
 \IT{567}{280}{Sydney}\IT{512}{317}{Melbourne}\BL{713}{367}{Durban}\IT{603}{405}{Jakarta}
 \IT{578}{458}{Bangkok}\IT{138}{513}{Washington/\\[-1pt]Baltimore}\IT{890}{520}{Karachi}
 \BL{215}{640}{Norfolk}\IT{562}{623}{Barcelone}\IT{150}{728}{San\\[-1pt]Francisco}
 \BL{500}{760}{Los Angeles}\IT{808}{877}{Tianjin}\BL{285}{928}{Nouvelle-\\Orleans}
\end{scope}
\begin{scope}[q6]
 \BL{60}{155}{Naples}\IT{250}{165}{Rome}\IT{450}{138}{Bahia\\[-2pt]Blanca}\IT{682}{243}{Valence}
 \IT{675}{342}{Caracas}\BL{78}{320}{Bombay}\IT{228}{465}{La Havane}\IT{610}{433}{Le Havre}
 \node[itl,anchor=east] (casa) at (918,490) {Casablanca};
 \IT{480}{515}{Londres}\IT{95}{565}{Colombo}\IT{178}{592}{Odessa}\IT{150}{650}{Shanghai}
 \IT{790}{617}{Marseille}\IT{357}{760}{Toronto}\BL{690}{763}{Hambourg}\BL{162}{830}{SINGAPOUR}
 \IT{845}{838}{Boston}\BL{270}{908}{ROTTERDAM}
\end{scope}
\begin{scope}[q7]
 \BL{715}{37}{Tokyo}\BL{253}{165}{Seattle}\IT{335}{225}{Vancouver}\BL{732}{277}{Osaka}
 \IT{770}{343}{Busan}\IT{108}{265}{Istanboul}\BL{367}{362}{Rio de\\Janeiro}
 \BL{237}{512}{Buenos Aires}\BL{275}{545}{Sao Paulo}\BL{550}{625}{Lima}\IT{340}{670}{Salvador}
 \IT{722}{598}{Nagoya}\BL{880}{707}{Venise}\IT{527}{822}{San Diego}
\end{scope}
\begin{scope}[q8]
 \BL{113}{65}{Hong Kong}\IT{130}{215}{Manille}\IT{92}{268}{Taipei}\IT{767}{178}{Paris}
 \BL{245}{287}{Anvers}\IT{120}{425}{Lagos}\IT{490}{450}{Montreal}\IT{543}{587}{Chicago}
 \BL{770}{527}{Las Palmas}\IT{370}{655}{St.Petersbourg}\BL{-5}{612}{Limassol}\IT{140}{868}{New York}
 \BL{425}{863}{Houston}\BL{580}{848}{Miami}
\end{scope}

% frames
\draw[frameline] (7pt,-5pt) rectangle (616pt,-622pt);
\draw[frameline] (7.5pt,-1260pt) -- (7.5pt,-644pt) -- (616pt,-644pt);
\end{tikzpicture}
\end{document}
